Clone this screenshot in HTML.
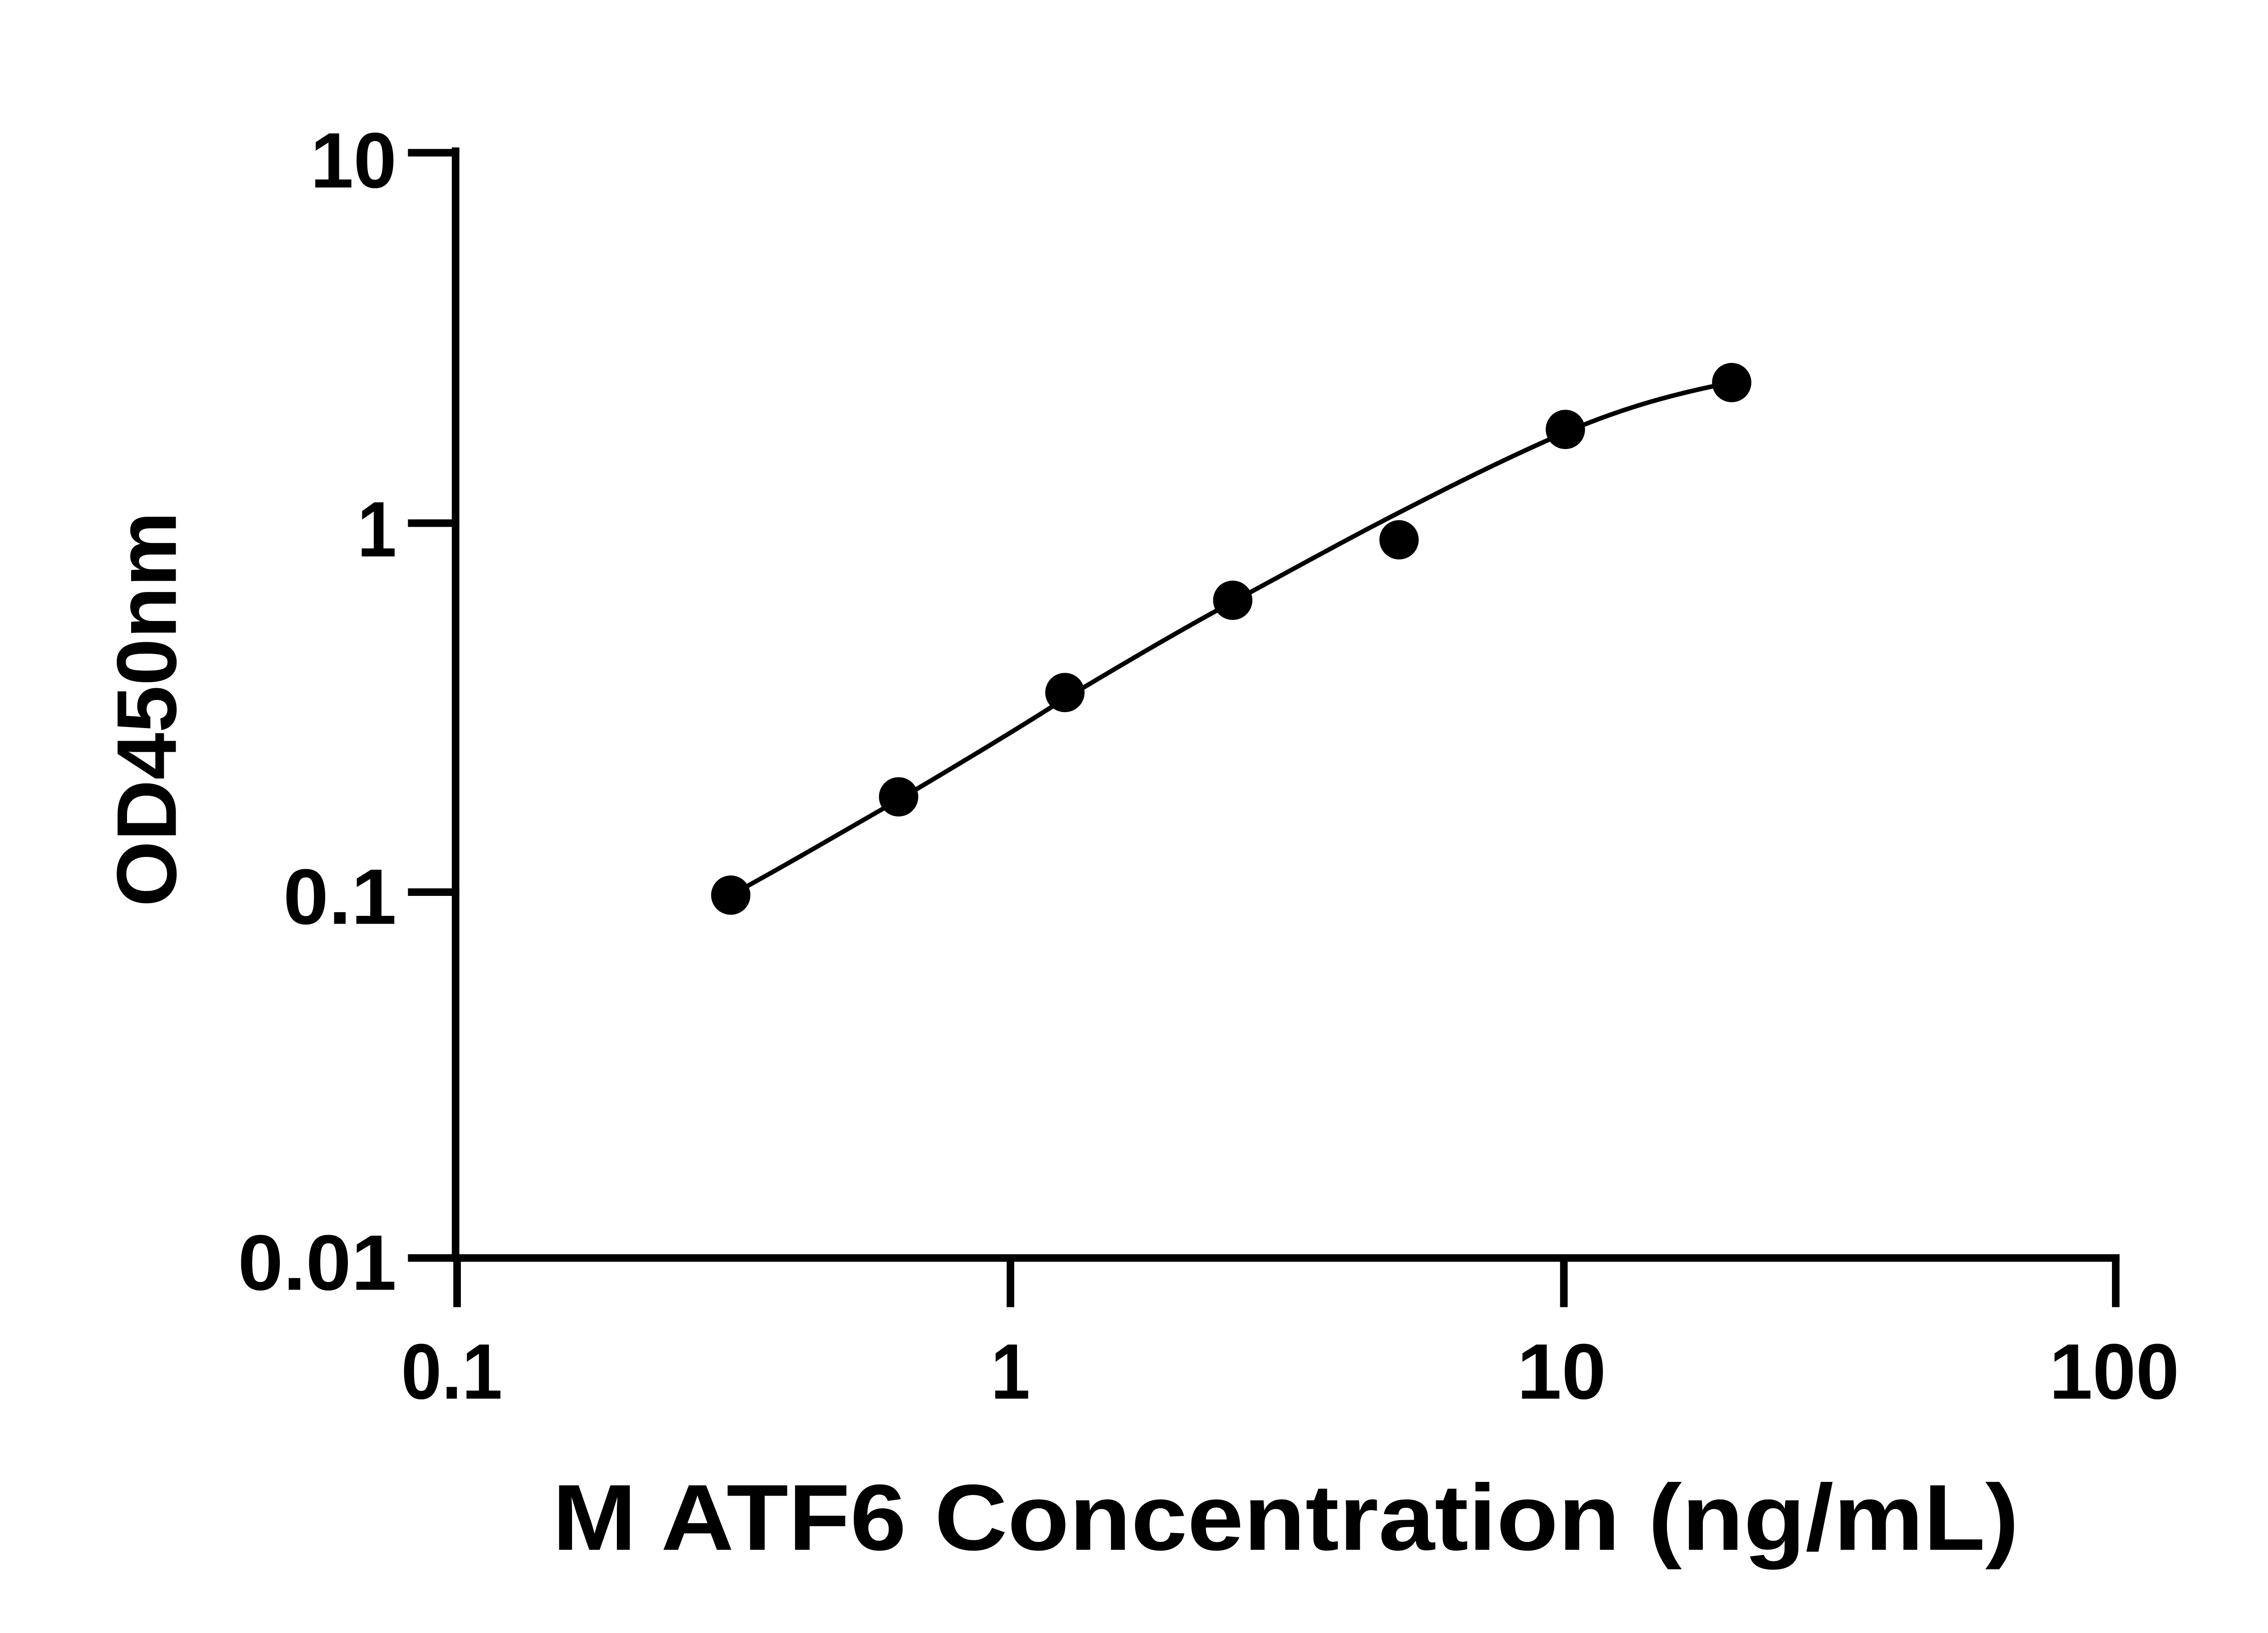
<!DOCTYPE html>
<html><head><meta charset="utf-8"><style>html,body{margin:0;padding:0;background:#fff}svg{display:block}</style></head>
<body>
<svg width="5142" height="3600" viewBox="0 0 1542 1080" xmlns="http://www.w3.org/2000/svg" font-family="'Liberation Sans', sans-serif" font-weight="bold">
<rect width="1542" height="1080" fill="#fff"/>
<g stroke="#000" stroke-width="5" fill="none" stroke-linecap="square">
<line x1="301" y1="100" x2="301" y2="832"/>
<line x1="301" y1="832" x2="1399" y2="832"/>
<line x1="272" y1="101" x2="301" y2="101"/>
<line x1="272" y1="346" x2="301" y2="346"/>
<line x1="272" y1="590" x2="301" y2="590"/>
<line x1="272" y1="832" x2="301" y2="832"/>
<line x1="302" y1="832" x2="302" y2="862"/>
<line x1="668" y1="832" x2="668" y2="862"/>
<line x1="1034" y1="832" x2="1034" y2="862"/>
<line x1="1399" y1="832" x2="1399" y2="862"/>
</g>
<path d="M483,592 C520,572 557,550 594,529 C631,507 668,485 704,462 C741,440 778,418 815,398 C852,378 888,358 925,339 C962,320 998,302 1035,286 C1072,270 1108,260 1145,253" stroke="#000" stroke-width="3" fill="none"/>
<g fill="#000">
<circle cx="483" cy="592" r="13"/>
<circle cx="594" cy="527" r="13"/>
<circle cx="704" cy="458" r="13"/>
<circle cx="815" cy="397" r="13"/>
<circle cx="925" cy="357" r="13"/>
<circle cx="1035" cy="284" r="13"/>
<circle cx="1145" cy="253" r="13"/>
</g>
<g font-size="52" fill="#000">
<text x="205" y="124" textLength="57" lengthAdjust="spacingAndGlyphs">10</text>
<text x="236" y="368" textLength="26" lengthAdjust="spacingAndGlyphs">1</text>
<text x="187" y="611" textLength="75" lengthAdjust="spacingAndGlyphs">0.1</text>
<text x="157" y="853" textLength="105" lengthAdjust="spacingAndGlyphs">0.01</text>
<text x="265" y="925" textLength="67" lengthAdjust="spacingAndGlyphs">0.1</text>
<text x="655" y="925" textLength="26" lengthAdjust="spacingAndGlyphs">1</text>
<text x="1003" y="925" textLength="59" lengthAdjust="spacingAndGlyphs">10</text>
<text x="1355" y="925" textLength="86" lengthAdjust="spacingAndGlyphs">100</text>
</g>
<text x="365" y="1025" font-size="62" fill="#000" textLength="970" lengthAdjust="spacingAndGlyphs">M ATF6 Concentration (ng/mL)</text>
<text transform="translate(116,469) rotate(-90)" font-size="56" text-anchor="middle" fill="#000">OD450nm</text>
</svg>
</body></html>
